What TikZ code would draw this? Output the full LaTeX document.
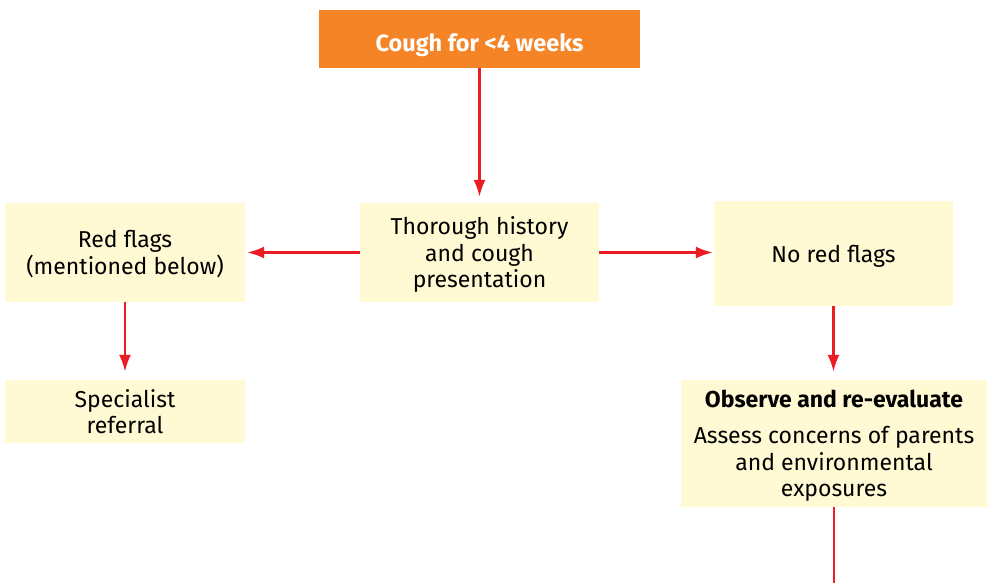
\documentclass[tikz,border=0pt]{standalone}
\usepackage{fontspec}
\setmainfont{Fira Sans}
\usetikzlibrary{arrows.meta}
\definecolor{coughorange}{HTML}{F58426}
\definecolor{boxyellow}{HTML}{FFF9D4}
\definecolor{arrowred}{HTML}{ED1C24}
\tikzset{
  stepbox/.style={fill=boxyellow,align=center,inner sep=0pt,
    font=\fontsize{23}{26.5}\selectfont,text depth=0pt},
  startbox/.style={fill=coughorange,text=white,align=center,inner sep=0pt,
    font=\fontsize{23.5}{26.5}\selectfont\bfseries,
    execute at begin node={\rule{0pt}{30pt}}},
  flow/.style={arrowred,line width=2.4pt}
}
\begin{document}
\begin{tikzpicture}[x=1pt,y=1pt,>={Latex[length=17pt,width=12pt]}]
\useasboundingbox (0,0) rectangle (987,583);
\node[startbox,minimum width=321pt,minimum height=58pt] (cough) at (479.5,544) {Cough for <4 weeks};
\node[stepbox,minimum width=239pt,minimum height=99pt] (hist) at (479.5,330.5) {Thorough history\\and cough\\presentation};
\node[stepbox,minimum width=240pt,minimum height=99pt] (red) at (125,330.5) {Red flags\\(mentioned below)};
\node[stepbox,minimum width=240pt,minimum height=63pt] (spec) at (125,171.5) {Specialist\\referral};
\node[stepbox,minimum width=239pt,minimum height=105pt] (nored) at (833.5,329.5) {No red flags};
\node[stepbox,minimum width=306pt,minimum height=127pt] (obs) at (834,139.5) {\textbf{Observe and re-evaluate}\\[10pt]Assess concerns of parents\\and environmental\\exposures};
\coordinate (end) at (834,0);

\draw[flow,->,shorten >=6pt] (cough.south)--(hist.north);
\draw[flow,->,shorten >=2pt] (hist.west)--(red.east);
\draw[flow,->,shorten >=1pt] (hist.east)--(hist.east-|nored.west);
\draw[flow,->,shorten >=8pt] (red.south)--(spec.north);
\draw[flow,->,shorten >=8pt] (nored.south)--(nored.south|-obs.north);
\draw[flow] (obs.south)--(end);
\end{tikzpicture}
\end{document}
